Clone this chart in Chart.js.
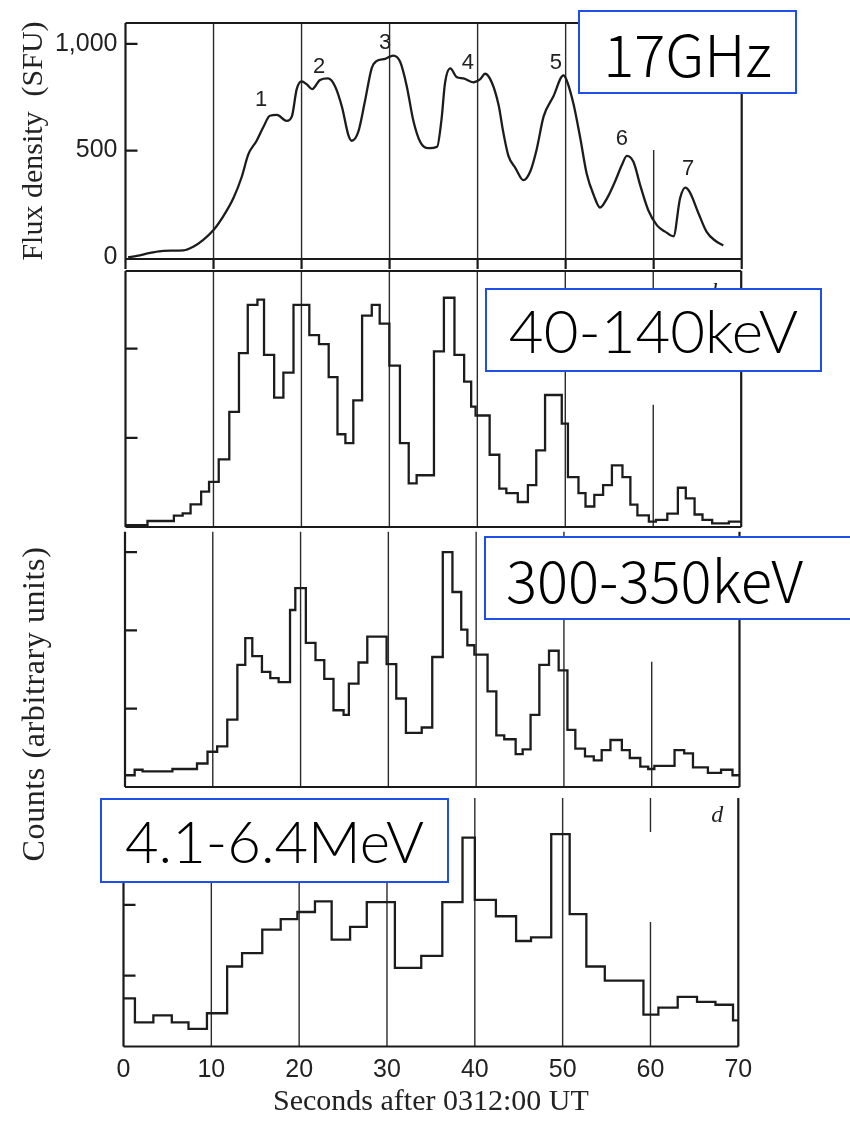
<!DOCTYPE html>
<html>
<head>
<meta charset="utf-8">
<script src="https://cdn.jsdelivr.net/npm/chart.js@4.4.1/dist/chart.umd.min.js"></script>
<style>
  body { margin: 0; background: #fff; }
  #page { position: relative; width: 850px; height: 1122px; overflow: hidden; background: #fff; }
  canvas { position: absolute; left: 0; }
  .band { position: absolute; box-sizing: border-box; border: 2px solid #1f4fe8; background: #fff;
          display: flex; align-items: center; justify-content: center; color: #000; white-space: nowrap; z-index: 5; }
  .ylab { position: absolute; font-family: "Liberation Serif", serif; color: #222; transform: rotate(-90deg);
          text-align: center; white-space: nowrap; }
</style>
</head>
<body>
<div id="page">
  <canvas id="c1" width="850" height="282" style="top:0px"></canvas>
  <canvas id="c2" width="850" height="266" style="top:266px"></canvas>
  <canvas id="c3" width="850" height="262" style="top:528px"></canvas>
  <canvas id="c4" width="850" height="328" style="top:794px"></canvas>

  <div class="ylab" style="left:-137px;top:684px;width:340px;height:40px;line-height:40px;font-size:32px;letter-spacing:0.6px">Counts (arbitrary units)</div>

  <div class="band" style="left:578px;top:10px;width:219px;height:84px;font:300 58px 'Noto Sans CJK JP'">17GHz</div>
  <div class="band" style="left:485px;top:288px;width:337px;height:84px;font:300 60px 'Lato'">40-140keV</div>
  <div class="band" style="left:484px;top:536px;width:400px;height:84px;font:300 58px 'Noto Sans CJK JP';justify-content:flex-start;padding-left:20px">300-350keV</div>
  <div class="band" style="left:100px;top:798px;width:349px;height:85px;font:300 58px 'Lato'">4.1-6.4MeV</div>
</div>

<script>
// 17 GHz radio flux density (SFU)
const radioTime = [0.3, 1.3, 2.8, 4.3, 6.6, 7.7, 8.8, 10.0, 11.1, 12.25, 13.2, 13.95, 14.9, 15.66, 16.4, 17.2, 18.3, 18.9,
  19.45, 20.0, 20.6, 21.2, 22.1, 23.0, 23.8, 24.6, 25.3, 25.7, 26.45, 27.2, 27.98, 28.5, 29.5, 30.4, 31.2, 31.95, 32.7,
  33.5, 34.4, 35.4, 35.9, 36.3, 36.9, 37.6, 38.4, 39.5, 40.3, 40.85, 41.6, 42.4, 42.9, 43.5, 44.3, 45.2, 46.0, 46.7,
  47.5, 48.6, 49.75, 50.1, 50.9, 51.65, 52.4, 53.2, 53.9, 54.7, 55.6, 56.4, 56.95, 57.7, 58.5, 59.4, 60.4, 61.3,
  62.25, 63.0, 63.6, 64.1, 65.1, 66.0, 67.0, 67.9];
const radioFlux = [0, 6, 20, 30, 32, 49, 80, 127, 191, 276, 376, 482, 546, 610, 663, 667, 639, 660,
  788, 824, 810, 788, 831, 838, 802, 703, 575, 546, 589, 731, 888, 919, 930, 945, 916, 802, 640,
  539, 511, 518, 646, 817, 885, 845, 838, 820, 835, 860, 820, 710, 589, 475, 418, 361, 404, 504,
  660, 753, 852, 831, 717, 561, 390, 290, 233, 276, 354, 433, 475, 447, 333, 219, 148, 120,
  98, 276, 326, 305, 205, 120, 77, 55];
const fluxTicks = [0, 500, 1000];

// numbered peaks on the radio curve
const peakNames = ['1', '2', '3', '4', '5', '6', '7'];
const peakTime = [15.4, 22.0, 29.5, 38.9, 48.9, 56.4, 63.9];
const peakFlux = [735, 891, 1004, 909, 909, 556, 413];

// 40-140 keV counts: start time of each step (s) and level (tick units)
const hxrEdges = [0, 2.5, 5.5, 6.5, 7.4, 8.6, 9.5, 10.6, 11.8, 12.9, 13.9, 15.0, 15.75, 16.9, 17.95, 19.1, 20.9, 22.0,
  23.1, 24.1, 25.0, 25.9, 26.9, 28.0, 28.9, 30.0, 31.2, 32.2, 33.1, 35.07, 36.2, 37.4, 38.5, 39.3, 39.8, 41.4, 42.5,
  43.3, 44.6, 45.75, 46.7, 47.7, 49.6, 50.3, 51.5, 52.3, 53.3, 54.3, 55.3, 56.5, 57.4, 58.2, 59.5, 60.3, 61.6, 62.8,
  63.7, 64.7, 65.6, 66.7, 68.6];
const hxrCounts = [0.02, 0.067, 0.127, 0.153, 0.254, 0.396, 0.507, 0.758, 1.29, 1.95, 2.49, 2.55, 1.93, 1.45, 1.73, 2.49, 2.15, 2.05,
  1.68, 1.04, 0.94, 1.42, 2.37, 2.49, 2.28, 1.81, 0.94, 0.49, 0.58, 1.97, 2.57, 1.93, 1.63, 1.35, 1.25, 0.81, 0.43,
  0.38, 0.28, 0.47, 0.86, 1.48, 1.16, 0.56, 0.38, 0.23, 0.36, 0.47, 0.69, 0.56, 0.25, 0.13, 0.06, 0.08, 0.15, 0.44,
  0.32, 0.14, 0.08, 0.04, 0.06];

// 300-350 keV counts
const midEdges = [0, 1.1, 2.0, 5.4, 8.2, 9.4, 10.5, 11.65, 12.8, 13.7, 14.5, 15.6, 16.55, 17.5, 18.8, 19.4, 20.6, 21.7,
  22.7, 23.75, 24.9, 25.5, 26.6, 27.6, 29.8, 30.9, 32.0, 33.8, 35.0, 36.2, 37.3, 38.3, 39.0, 39.8, 41.3, 42.3, 43.2,
  44.5, 45.3, 46.2, 47.2, 48.3, 49.4, 50.4, 51.3, 52.4, 53.4, 54.3, 55.3, 56.6, 57.5, 58.7, 59.6, 60.3, 62.6, 63.7,
  64.7, 66.4, 67.9, 69.2];
const midCounts = [0.15, 0.22, 0.2, 0.23, 0.3, 0.45, 0.52, 0.86, 1.56, 1.90, 1.67, 1.47, 1.39, 1.34, 2.26, 2.54, 1.84, 1.62,
  1.38, 0.98, 0.92, 1.32, 1.59, 1.92, 1.57, 1.13, 0.69, 0.76, 1.66, 3.0, 2.49, 2.01, 1.81, 1.69, 1.22, 0.66, 0.61,
  0.42, 0.48, 0.92, 1.56, 1.74, 1.49, 0.73, 0.49, 0.39, 0.34, 0.47, 0.60, 0.47, 0.37, 0.26, 0.23, 0.27, 0.47, 0.43,
  0.25, 0.18, 0.22, 0.15];

// 4.1-6.4 MeV counts
const gamEdges = [0, 1.3, 3.4, 5.5, 7.4, 9.5, 11.8, 13.5, 15.8, 17.9, 19.8, 21.8, 23.7, 25.8, 27.7, 30.9, 33.9, 36.3,
  38.6, 40.0, 42.4, 44.7, 46.4, 48.7, 50.8, 52.7, 54.8, 59.2, 60.9, 63.1, 65.3, 67.4, 69.4];
const gamCounts = [0.68, 0.34, 0.44, 0.34, 0.25, 0.47, 1.13, 1.32, 1.65, 1.80, 1.90, 2.05, 1.51, 1.69, 2.04, 1.11, 1.28, 2.04,
  2.95, 2.07, 1.84, 1.49, 1.54, 3.0, 1.87, 1.13, 0.93, 0.45, 0.55, 0.70, 0.63, 0.59, 0.37];

const xTickLabels = [0, 10, 20, 30, 40, 50, 60, 70];
const gridTimes = [10, 20, 30, 40, 50];
const endTime = 70;

function steps(edges, vals) {
  const pts = edges.map((t, i) => ({ x: t, y: vals[i] }));
  pts.push({ x: endTime, y: vals[vals.length - 1] });
  return pts;
}

// frame, grid lines and inner tick marks, all placed through the scales
const framePlugin = {
  id: 'frame',
  beforeDatasetsDraw(chart, args, o) {
    if (!o || !o.ticks) return;
    const { ctx, chartArea: a } = chart;
    const x = chart.scales.x, y = chart.scales.y;
    ctx.save();
    ctx.strokeStyle = '#2b2b2b';
    ctx.lineWidth = 1.4;
    ctx.beginPath();
    gridTimes.forEach(t => {
      const px = x.getPixelForValue(t);
      ctx.moveTo(px, a.top);
      ctx.lineTo(px, a.bottom);
    });
    o.cut.forEach(r => {
      const px = x.getPixelForValue(60);
      ctx.moveTo(px, y.getPixelForValue(r[1]));
      ctx.lineTo(px, y.getPixelForValue(r[0]));
    });
    ctx.stroke();

    ctx.strokeStyle = '#1a1a1a';
    ctx.lineWidth = 2.2;
    ctx.beginPath();
    ctx.moveTo(a.left, a.top); ctx.lineTo(a.left, a.bottom);
    ctx.moveTo(a.right, a.top); ctx.lineTo(a.right, a.bottom);
    ctx.moveTo(a.left, a.bottom); ctx.lineTo(a.right, a.bottom);
    if (o.top) { ctx.moveTo(a.left, a.top); ctx.lineTo(a.right, a.top); }
    o.ticks.forEach(v => {
      const py = y.getPixelForValue(v);
      ctx.moveTo(a.left, py);
      ctx.lineTo(a.left + 12, py);
    });
    if (o.down) {
      xTickLabels.forEach(t => {
        const px = x.getPixelForValue(t);
        ctx.moveTo(px, a.bottom);
        ctx.lineTo(px, a.bottom + 10);
      });
    }
    ctx.stroke();
    ctx.restore();
  },
  afterDatasetsDraw(chart, args, o) {
    if (!o || !o.notes) return;
    const { ctx } = chart;
    const x = chart.scales.x, y = chart.scales.y;
    ctx.save();
    ctx.fillStyle = '#222';
    ctx.textAlign = 'center';
    ctx.textBaseline = 'middle';
    o.notes.forEach(n => {
      ctx.font = n.font;
      ctx.fillText(n.text, x.getPixelForValue(n.t), y.getPixelForValue(n.v));
    });
    ctx.restore();
  }
};
Chart.register(framePlugin);

function lineSet(data, stepped) {
  return {
    data: data,
    stepped: stepped,
    borderColor: '#1c1c1c',
    borderWidth: 2.3,
    pointRadius: 0,
    fill: false,
    cubicInterpolationMode: 'monotone'
  };
}

function hiddenX() {
  return { type: 'linear', min: 0, max: endTime, display: false };
}

const baseOpts = {
  responsive: false,
  animation: false,
  devicePixelRatio: 1,
  events: []
};

// panel a: 17 GHz
new Chart(document.getElementById('c1'), {
  type: 'line',
  data: { datasets: [lineSet(radioTime.map((t, i) => ({ x: t, y: radioFlux[i] })), false)] },
  options: Object.assign({}, baseOpts, {
    layout: { padding: { left: 0, right: 108.3, top: 7.3, bottom: 15.3 } },
    scales: {
      x: hiddenX(),
      y: {
        min: -8.5, max: 1098,
        grid: { display: false, drawTicks: false },
        border: { display: false },
        afterBuildTicks: s => { s.ticks = fluxTicks.map(v => ({ value: v })); },
        afterFit: s => { s.width = 125.5; },
        ticks: { padding: 8, color: '#222', font: { family: 'Liberation Sans', size: 25 },
                 callback: v => v.toLocaleString('en-US') },
        title: { display: true, text: 'Flux density  (SFU)', color: '#222',
                 font: { family: 'Liberation Serif', size: 30 }, padding: { top: 16, bottom: 0 } }
      }
    },
    plugins: {
      legend: { display: false }, tooltip: { enabled: false },
      frame: {
        top: true, down: true, ticks: [500, 1000], cut: [[-8.5, 502]],
        notes: peakNames.map((p, i) => ({ text: p, t: peakTime[i], v: peakFlux[i], font: '22px "Liberation Sans"' }))
      }
    }
  })
});

// panel b: 40-140 keV
new Chart(document.getElementById('c2'), {
  type: 'line',
  data: { datasets: [lineSet(steps(hxrEdges, hxrCounts), true)] },
  options: Object.assign({}, baseOpts, {
    layout: { padding: { left: 125.5, right: 108.8, top: 5, bottom: 5 } },
    scales: { x: hiddenX(), y: { min: 0, max: 2.87, display: false } },
    plugins: {
      legend: { display: false }, tooltip: { enabled: false },
      frame: { top: true, ticks: [1, 2], cut: [[0, 1.37], [2.6, 2.87]],
               notes: [{ text: 'b', t: 67.3, v: 2.63, font: 'italic 24px "Liberation Serif"' }] }
    }
  })
});

// panel c: 300-350 keV
new Chart(document.getElementById('c3'), {
  type: 'line',
  data: { datasets: [lineSet(steps(midEdges, midCounts), true)] },
  options: Object.assign({}, baseOpts, {
    layout: { padding: { left: 125, right: 110.5, top: 3.7, bottom: 3 } },
    scales: { x: hiddenX(), y: { min: 0, max: 3.26, display: false } },
    plugins: {
      legend: { display: false }, tooltip: { enabled: false },
      frame: { top: false, ticks: [1, 2, 3], cut: [[0, 1.6]], notes: [] }
    }
  })
});

// panel d: 4.1-6.4 MeV
new Chart(document.getElementById('c4'), {
  type: 'line',
  data: { datasets: [lineSet(steps(gamEdges, gamCounts), true)] },
  options: Object.assign({}, baseOpts, {
    layout: { padding: { left: 123.5, right: 111.7, top: 4, bottom: 0 } },
    scales: {
      x: {
        type: 'linear', min: 0, max: endTime,
        grid: { display: false, drawTicks: false },
        border: { display: false },
        afterBuildTicks: s => { s.ticks = xTickLabels.map(v => ({ value: v })); },
        afterFit: s => { s.height = 75.5; },
        ticks: { padding: 9, maxRotation: 0, autoSkip: false, color: '#222',
                 font: { family: 'Liberation Sans', size: 25 } },
        title: { display: true, text: 'Seconds after 0312:00 UT', color: '#222',
                 font: { family: 'Liberation Serif', size: 30 }, padding: { top: 0, bottom: 2 } }
      },
      y: { min: 0, max: 3.51, display: false }
    },
    plugins: {
      legend: { display: false }, tooltip: { enabled: false },
      frame: { top: false, ticks: [1, 2, 3], cut: [[0, 1.76], [3.03, 3.51]],
               notes: [{ text: 'd', t: 67.6, v: 3.26, font: 'italic 24px "Liberation Serif"' }] }
    }
  })
});
</script>
</body>
</html>
